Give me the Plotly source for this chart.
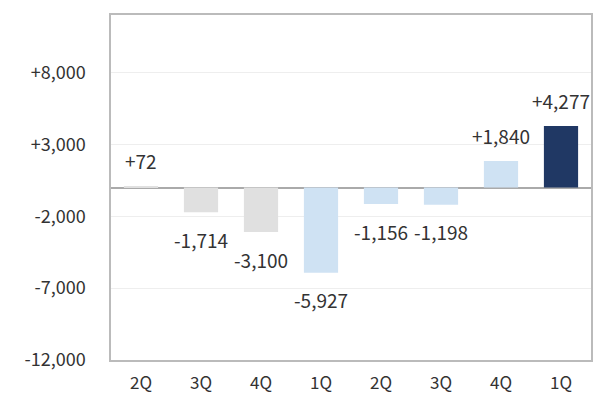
import plotly.graph_objects as go

quarters = ["2Q", "3Q", "4Q", "1Q", "2Q", "3Q", "4Q", "1Q"]
values = [72, -1714, -3100, -5927, -1156, -1198, 1840, 4277]
colors = ["#e0e0e0", "#e0e0e0", "#e0e0e0", "#cfe2f3", "#cfe2f3", "#cfe2f3", "#cfe2f3", "#203864"]
y_ticks = [-12000, -7000, -2000, 3000, 8000]

x = list(range(len(quarters)))
font = "Noto Sans CJK JP"

def fmt(v):
    return ("+" if v >= 0 else "-") + f"{abs(v):,}"

fig = go.Figure()
fig.add_trace(go.Bar(x=x, y=values, marker=dict(color=colors, line=dict(width=0)),
                     width=0.57, hoverinfo="skip"))

for xi, v in zip(x, values):
    fig.add_annotation(x=xi, y=v, text=fmt(v), showarrow=False,
                       yanchor="middle", yshift=26 if v >= 0 else -27,
                       font=dict(family=font, size=19, color="#333333"))

fig.update_layout(
    width=593, height=398,
    margin=dict(l=111, r=2, t=15, b=38),
    paper_bgcolor="white", plot_bgcolor="white",
    showlegend=False,
    font=dict(family=font, size=18, color="#333333"),
)
fig.update_xaxes(tickvals=x, ticktext=quarters, range=[-0.5, 7.5], automargin=False,
                 showgrid=False, showline=True, linecolor="#bbbbbb", linewidth=1.5,
                 mirror=True, ticks="", ticklabelstandoff=7,
                 tickfont=dict(family=font, size=17, color="#333333"))
fig.update_yaxes(range=[-12000, 12000], tickvals=y_ticks, ticktext=[fmt(t) for t in y_ticks],
                 automargin=False,
                 showgrid=True, gridcolor="#eeeeee", gridwidth=1,
                 zeroline=True, zerolinecolor="#aaaaaa", zerolinewidth=2,
                 showline=True, linecolor="#bbbbbb", linewidth=1.5, mirror=True,
                 ticks="", ticklabelstandoff=20,
                 tickfont=dict(family=font, size=18, color="#333333"))

fig.write_html("out.html")
